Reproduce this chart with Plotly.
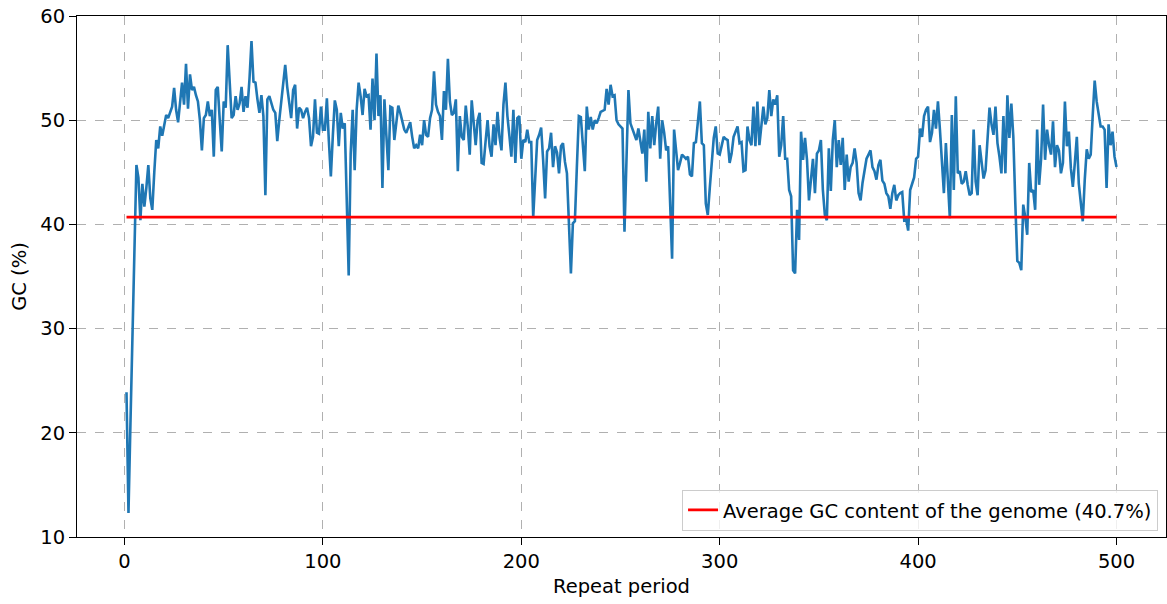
import plotly.graph_objects as go

# GC content (%) for repeat periods 1..500
gc_percent = [
    23.9, 12.3, 21, 29.5, 38, 45.7, 44.5, 40.4, 43.9, 41.7,
    43.5, 45.7, 42.5, 41.4, 45, 48.1, 47.3, 49.4, 48.5, 49.6,
    50.5, 50.2, 50.8, 51.3, 53.1, 51, 49.8, 51.5, 53.6, 51.5,
    55.4, 51.1, 54.4, 52.9, 53.2, 52.4, 51.8, 50, 47.1, 50.2,
    50.5, 51.8, 50.4, 51, 46.5, 52.9, 53.2, 50, 47, 51.8,
    51.2, 57.2, 53, 50.2, 50.5, 52.3, 51, 51.6, 53.2, 50.8,
    52.3, 51.2, 54, 57.6, 53.7, 53.6, 52, 50.7, 52.4, 50.4,
    42.8, 52, 52.3, 51.5, 51, 50.7, 48, 50, 51.9, 53.5,
    55.3, 53.2, 51.5, 50.2, 52.9, 53.4, 49.2, 51.2, 51, 50.2,
    50.8, 51.2, 50.2, 47.5, 48.4, 52, 48.8, 48.7, 51.3, 49.1,
    49.1, 52.1, 48, 44.6, 48.5, 51.9, 51, 47.5, 50.7, 49.2,
    49.7, 40.7, 35.1, 46.8, 51, 45.2, 51, 53.6, 52.3, 50.5,
    53, 52.3, 52.4, 49.1, 54, 50, 56.4, 50.4, 52.4, 43.5,
    52, 48.5, 45.2, 51.3, 51.2, 48.1, 49.5, 51.4, 50.7, 49.9,
    49.1, 48.8, 49.3, 49.8, 48.4, 47.3, 47.6, 47.3, 48.6, 47.6,
    50, 48.6, 48.4, 50.2, 51, 54.7, 51.5, 50.8, 50.4, 48.1,
    52.8, 51, 55.9, 51.8, 50.5, 50.7, 52, 45.1, 50.4, 48.4,
    48.1, 51.4, 49.4, 46.7, 51.9, 49.4, 47.6, 50, 50.7, 45.9,
    45.8, 48, 50, 47.5, 46.5, 49.6, 47.6, 50.8, 48.4, 47.1,
    51.5, 53.6, 50.4, 48.5, 46.5, 51, 45.9, 50.2, 50.4, 46.3,
    48.1, 47.9, 49.1, 47.9, 47.9, 40.7, 45.2, 48.1, 48.6, 49.3,
    46.2, 42.5, 47, 47.3, 48.8, 45.5, 47.5, 46.9, 44.9, 47.5,
    47.8, 46, 44.9, 40.1, 35.3, 40.1, 40.3, 45.5, 50.4, 50.3,
    48.1, 45.1, 51.3, 49.1, 50.3, 49.1, 50, 49.7, 50.2, 50.8,
    50.9, 51, 53, 51.5, 53.4, 52.3, 52.4, 50, 49.6, 49.4,
    49.2, 39.3, 46, 52.9, 49.7, 49.1, 48.6, 48.1, 49.2, 47.8,
    46.8, 49.1, 44.1, 50.8, 47.3, 50.4, 47.6, 49.7, 51.3, 46.3,
    50, 48.8, 47.1, 47.5, 42.7, 36.7, 49.1, 47, 45.2, 45.9,
    46.7, 46.5, 46.3, 46.5, 44.8, 44.6, 47.8, 47.9, 50, 51.8,
    47.8, 47.6, 42, 40.9, 43.5, 45.9, 48.3, 49.4, 46.8, 46.7,
    47.5, 48.4, 48.2, 48.1, 45.9, 46.8, 48.4, 49, 49.4, 47.8,
    47.9, 45.1, 45.2, 49.4, 48.1, 47.6, 51.3, 47.5, 51.8, 47.6,
    49.4, 51.3, 49.6, 50.2, 52.9, 50.4, 52, 51.5, 52.4, 46.5,
    47.6, 50.4, 46.3, 46.3, 43.3, 42.7, 35.6, 35.3, 41.4, 38.5,
    48.9, 46.2, 48.3, 46.2, 42.3, 44.7, 46.3, 43, 46.8, 47.1,
    48.1, 43.3, 40.9, 40.4, 47.3, 43.2, 48.1, 50, 45.5, 48.1,
    45.7, 48.3, 43.3, 46.7, 44.1, 45.5, 45.9, 47.3, 45.9, 43,
    42.3, 44, 45.4, 46.3, 46.7, 47.1, 45.5, 45.1, 44.3, 45.7,
    46.2, 44.2, 43.9, 43, 42.7, 41.5, 43, 43.8, 42.3, 42.8,
    43, 43.1, 40.4, 40.5, 39.4, 43.3, 43.9, 44.5, 46.3, 46.5,
    49.2, 48.4, 50.4, 51, 51.3, 47.9, 48.8, 51, 49.2, 51.8,
    49.1, 46, 43, 47.8, 44.6, 40.6, 50.5, 43.3, 52.3, 44.9,
    45.1, 43.9, 44.1, 45.1, 43.8, 42.8, 43, 49.1, 44.1, 42.8,
    47.6, 46, 44.4, 45.2, 48.1, 51.2, 49.6, 48.6, 51.3, 47.8,
    46.5, 44.9, 50.4, 44.9, 52.4, 48.3, 51.6, 48.4, 42, 36.5,
    36.3, 35.6, 41.9, 40.7, 39, 45.9, 43.1, 43.3, 41.4, 49.1,
    43.8, 46.3, 51.5, 46.2, 49.1, 47.6, 46.7, 49.9, 45.5, 47.6,
    47.1, 44.9, 45.9, 51.8, 47.5, 48.9, 45.4, 43.6, 45.9, 48.4,
    43.9, 42, 40.3, 44.3, 47.2, 46.3, 46.7, 50.4, 53.8, 51.8,
    50.5, 49.4, 49.4, 49.1, 43.5, 49.6, 47.6, 48.9, 46.5, 45.5,
]
repeat_period = list(range(1, len(gc_percent) + 1))

avg_gc = 40.7
avg_x = [repeat_period[0], repeat_period[-1]]
avg_y = [avg_gc, avg_gc]

x_ticks = [0, 100, 200, 300, 400, 500]
y_ticks = [10, 20, 30, 40, 50, 60]

fig = go.Figure()
fig.add_trace(go.Scatter(
    x=repeat_period, y=gc_percent, mode="lines",
    line=dict(color="#1f77b4", width=2.6),
    showlegend=False,
))
fig.add_trace(go.Scatter(
    x=avg_x, y=avg_y, mode="lines",
    line=dict(color="#ff0000", width=2.6),
    name="Average GC content of the genome (40.7%)",
))

font = dict(family="DejaVu Sans", size=19.5, color="#000000")
axis_common = dict(
    showline=True, linecolor="#000000", linewidth=1, mirror=True,
    ticks="outside", ticklen=7, tickwidth=1, tickcolor="#000000",
    showgrid=True, gridcolor="#b0b0b0", gridwidth=1, griddash="dash",
    zeroline=False, tickfont=font, automargin=False,
)
fig.update_layout(
    width=1167, height=604,
    margin=dict(l=77, r=1, t=16, b=67),
    paper_bgcolor="white", plot_bgcolor="white",
    font=font,
    xaxis=dict(range=[-23.95, 524.95], tickvals=x_ticks,
               title=dict(text="Repeat period", font=font, standoff=6),
               **axis_common),
    yaxis=dict(range=[10, 60], tickvals=y_ticks,
               title=dict(text="GC (%)", font=font, standoff=8),
               **axis_common),
    legend=dict(x=0.9927, y=0.012, xanchor="right", yanchor="bottom",
                bgcolor="rgba(255,255,255,0.8)", bordercolor="#cccccc",
                borderwidth=1, font=dict(family="DejaVu Sans", size=19.5, color="#000000")),
)
# remove the default page margin so the figure fills the window exactly
fig.write_html(
    "out.html",
    config={"displayModeBar": False},
    post_script="document.body.style.margin='0';document.body.style.overflow='hidden';",
)
